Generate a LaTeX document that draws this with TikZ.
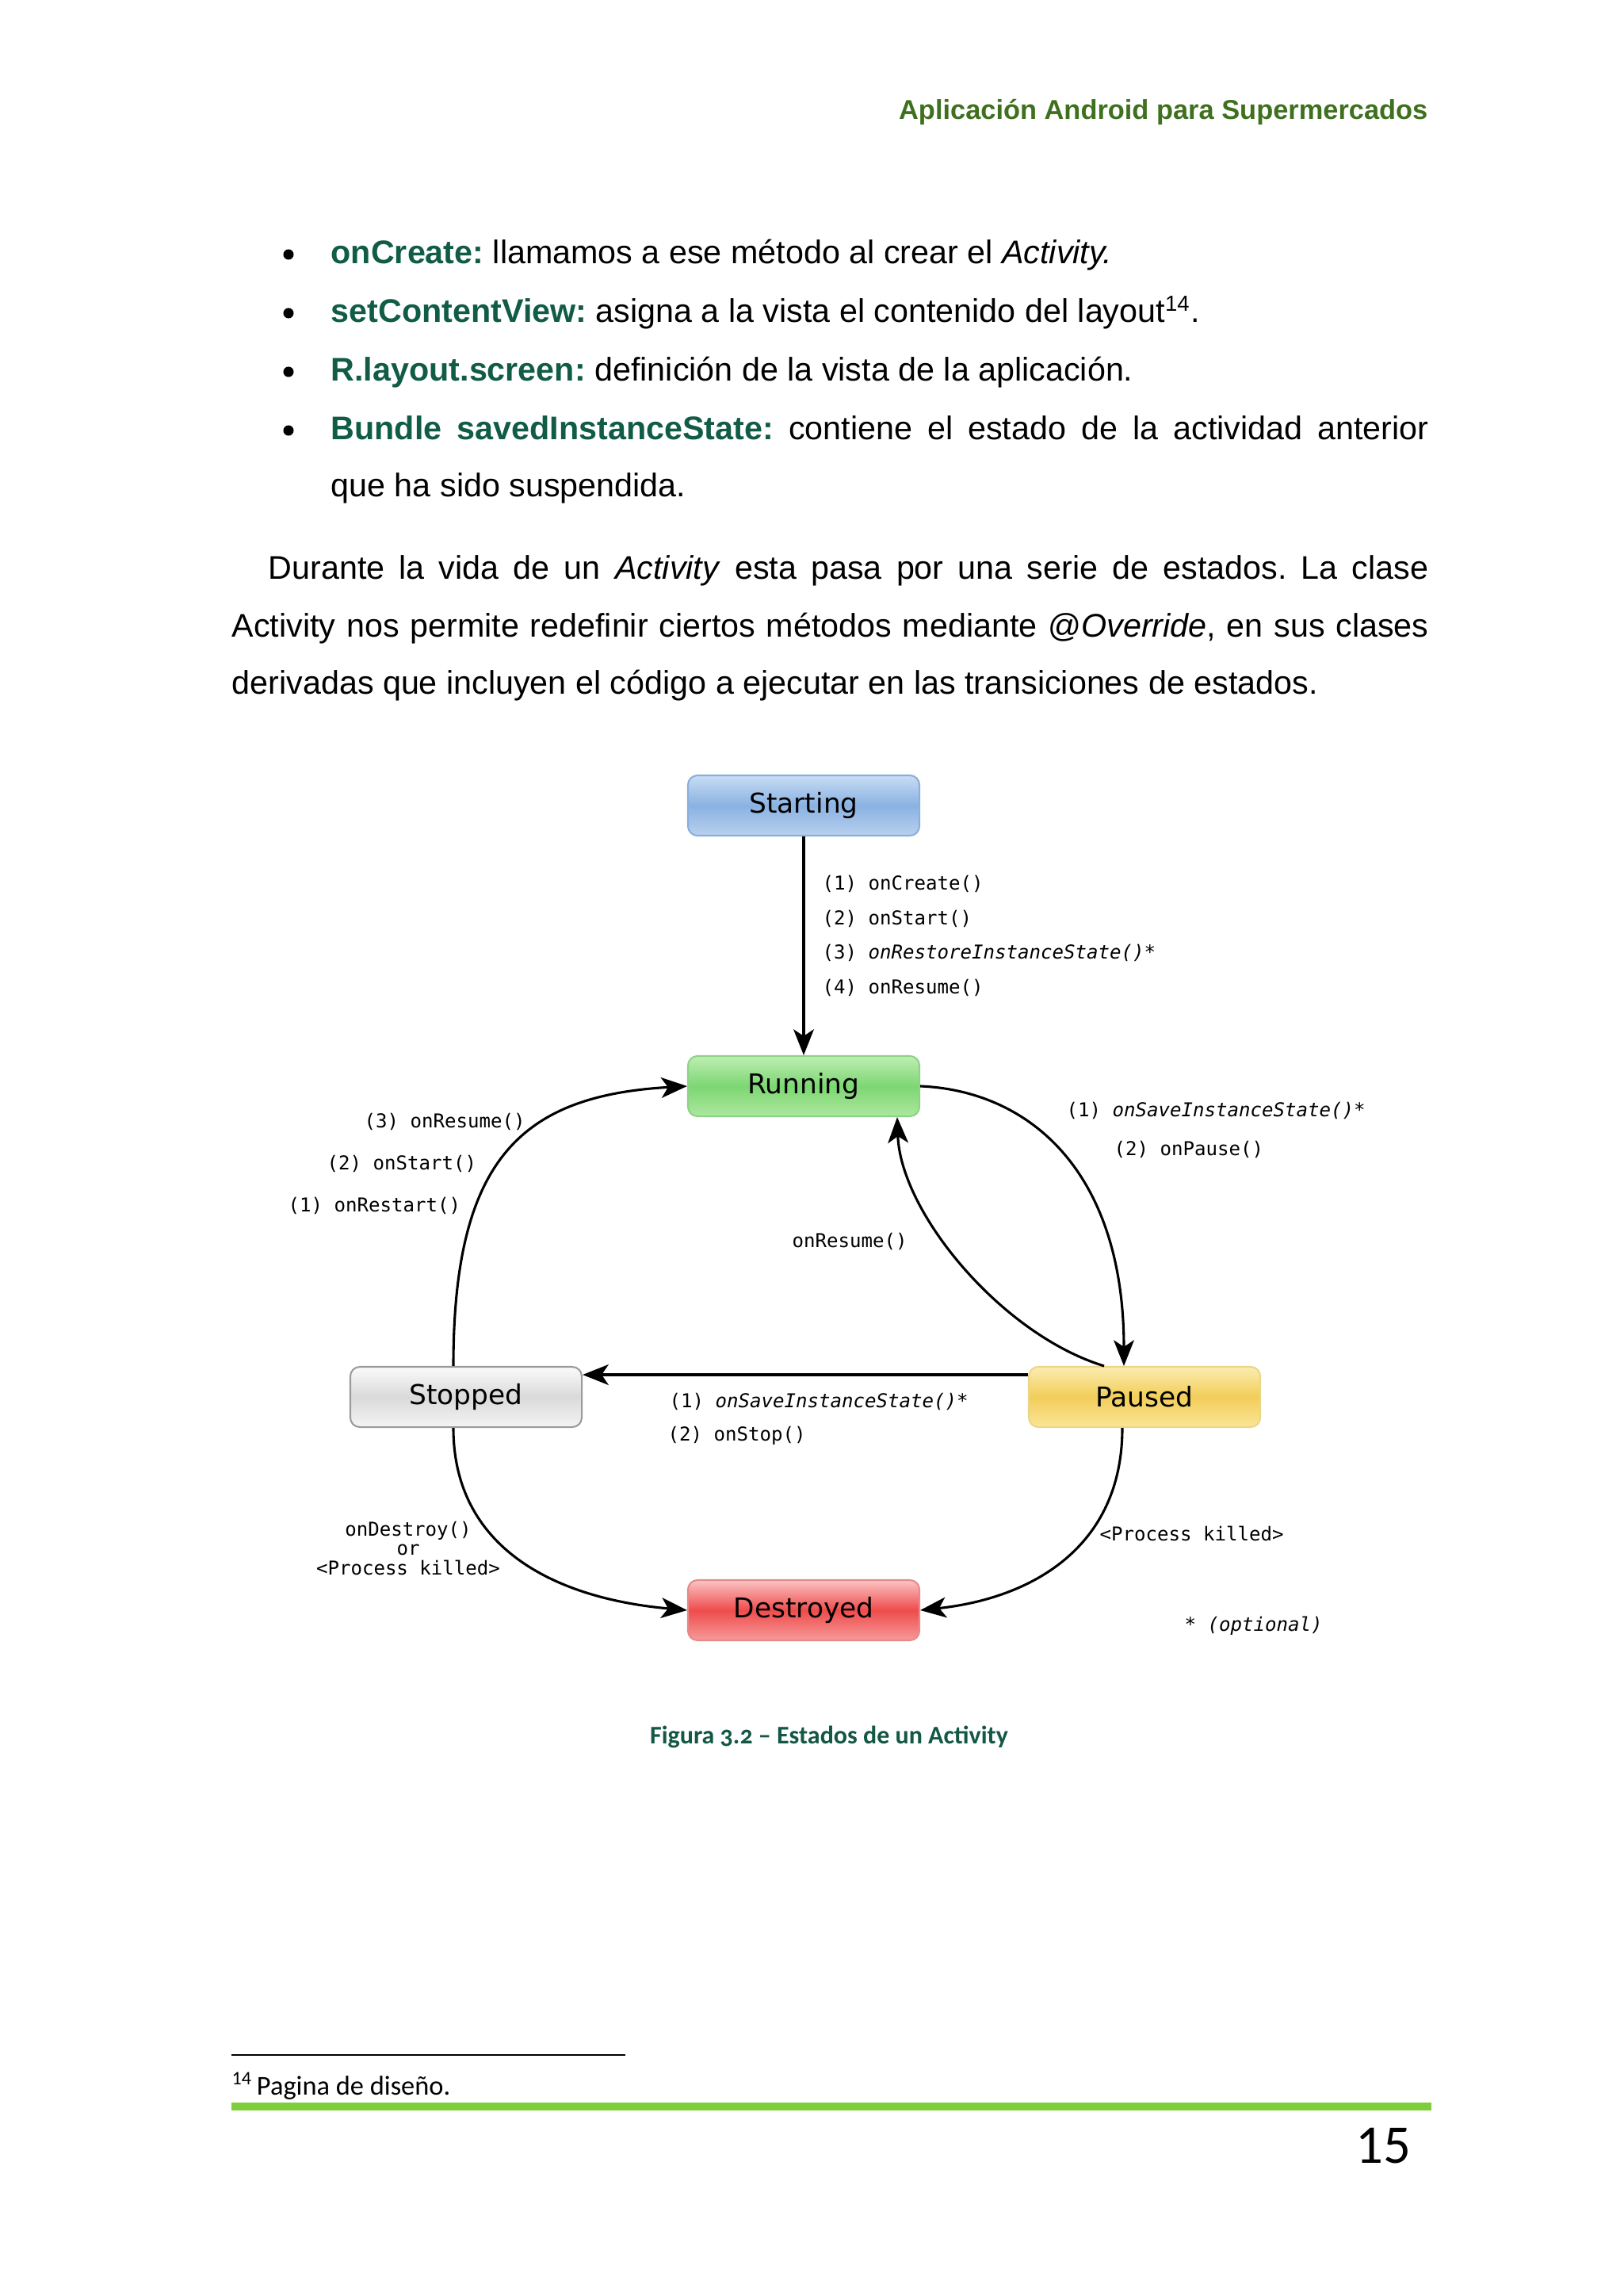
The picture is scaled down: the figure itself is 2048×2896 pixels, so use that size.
\documentclass[tikz,border=0pt]{standalone}
\usepackage{fontspec}
\setmainfont{Liberation Sans}
\newfontfamily\dejavu{DejaVu Sans}
\newfontfamily\dmono{DejaVu Sans Mono}
\newfontfamily\carlito{Carlito}
\newfontfamily\carlitoos[Numbers=OldStyle]{Carlito}
\usetikzlibrary{arrows.meta,calc}
\definecolor{hdrgreen}{RGB}{62,112,30}
\definecolor{kwteal}{RGB}{16,92,70}
\definecolor{capteal}{RGB}{18,88,68}
\definecolor{bargreen}{RGB}{126,206,60}
\frenchspacing
\begin{document}
\frenchspacing
\begin{tikzpicture}[x=0.29068pt,y=-0.29068pt,
  state/.style={draw, rounded corners=3.5pt, minimum width=84.9pt, minimum height=22.1pt,
    inner sep=0pt, line width=0.6pt, font=\dejavu\fontsize{10pt}{12pt}\selectfont},
  arr/.style={line width=0.9pt, -{Stealth[length=9.5pt,width=7.5pt,inset=2.5pt]}},
  lbl/.style={font=\dmono\fontsize{7pt}{7pt}\selectfont, inner sep=0pt, anchor=base west},
  body/.style={font=\frenchspacing\fontsize{12pt}{14pt}\selectfont, inner sep=0pt, anchor=base west},
  kw/.style={text=kwteal}]
\fill[white] (0,0) rectangle (2048,2896);
\useasboundingbox (0,0) rectangle (2048,2896);

% header
\node[anchor=base east, inner sep=0pt, font=\bfseries\fontsize{10pt}{12pt}\selectfont, text=hdrgreen] (hdr) at (1802,151) {Aplicación Android para Supermercados};

% bullets
\fill (364,321) circle[radius=1.9pt];
\fill (364,395) circle[radius=1.9pt];
\fill (364,469) circle[radius=1.9pt];
\fill (364,543) circle[radius=1.9pt];
\node[body] (b1) at (417,333) {\textcolor{kwteal}{\bfseries onCreate:} llamamos a ese método al crear el \textit{Activity.}};
\node[body] (b2) at (417,407) {\textcolor{kwteal}{\bfseries setContentView:} asigna a la vista el contenido del layout\textsuperscript{14}.};
\node[body] (b3) at (417,481) {\textcolor{kwteal}{\bfseries R.layout.screen:} definición de la vista de la aplicación.};
\node[body] (b4) at (417,555) {\makebox[402.6pt][s]{\textcolor{kwteal}{\bfseries Bundle savedInstanceState:} contiene el estado de la actividad anterior}};
\node[body] (b5) at (417,627) {que ha sido suspendida.};

% paragraph
\node[body] (p1) at (338,731) {\makebox[425.5pt][s]{Durante la vida de un \textit{Activity} esta pasa por una serie de estados. La clase}};
\node[body] (p2) at (292,803) {\makebox[438.9pt][s]{Activity nos permite redefinir ciertos métodos mediante @\textit{Override}, en sus clases}};
\node[body] (p3) at (292,875) {derivadas que incluyen el código a ejecutar en las transiciones de estados.};

% states
\node[state, draw={rgb,255:red,138;green,175;blue,220}, top color={rgb,255:red,200;green,220;blue,244}, bottom color={rgb,255:red,184;green,208;blue,238}, middle color={rgb,255:red,138;green,178;blue,226}] (start) at (1014,1016) {Starting};
\node[state, draw={rgb,255:red,142;green,211;blue,133}, top color={rgb,255:red,190;green,238;blue,180}, bottom color={rgb,255:red,172;green,232;blue,158}, middle color={rgb,255:red,125;green,214;blue,115}] (run) at (1014,1370) {Running};
\node[state, draw={rgb,255:red,154;green,154;blue,154}, top color={rgb,255:red,250;green,250;blue,250}, bottom color={rgb,255:red,244;green,244;blue,244}, middle color={rgb,255:red,218;green,218;blue,218}] (stop) at (588,1762) {Stopped};
\node[state, draw={rgb,255:red,237;green,213;blue,136}, top color={rgb,255:red,251;green,236;blue,176}, bottom color={rgb,255:red,250;green,229;blue,151}, middle color={rgb,255:red,242;green,205;blue,90}] (pause) at (1444,1762) {Paused};
\node[state, draw={rgb,255:red,229;green,138;blue,138}, top color={rgb,255:red,251;green,196;blue,196}, bottom color={rgb,255:red,247;green,154;blue,154}, middle color={rgb,255:red,239;green,76;blue,76}] (dest) at (1014,2031) {Destroyed};

% connectors
\draw[arr] (start) -- (run);
\draw[arr] ($(stop.north)+(-16,0)$) .. controls +(0,-260) and +(-210,12) .. (run.west);
\draw[arr] (run.east) .. controls +(140,6) and +(0,-243) .. ($(pause.north)+(-26,0)$);
\draw[arr] ($(pause.north)+(-51,0)$) .. controls +(-130,-40) and +(4,120) .. ($(run.south)+(118,0)$);
\draw[arr] ($(pause.west)+(0,-28)$) -- ($(stop.east)+(0,-28)$);
\draw[arr] ($(stop.south)+(-16,0)$) .. controls +(0,151) and +(-168,-15) .. (dest.west);
\draw[arr] ($(pause.south)+(-28,0)$) .. controls +(0,151) and +(140,-15) .. (dest.east);

% labels
\node[lbl] (l1) at (1037,1122) {(1) onCreate()};
\node[lbl] (l2) at (1037,1166) {(2) onStart()};
\node[lbl] (l3) at (1037,1209) {(3) {\itshape onRestoreInstanceState()}*};
\node[lbl] (l4) at (1037,1253) {(4) onResume()};

\node[lbl] (r3) at (459,1422) {(3) onResume()};
\node[lbl] (r2) at (412,1475) {(2) onStart()};
\node[lbl] (r1) at (363,1528) {(1) onRestart()};

\node[lbl] (s1) at (1345,1408) {(1) {\itshape onSaveInstanceState()}*};
\node[lbl] (s2) at (1405,1457) {(2) onPause()};

\node[lbl] (res) at (999,1573) {onResume()};

\node[lbl] (t1) at (844,1775) {(1) {\itshape onSaveInstanceState()}*};
\node[lbl] (t2) at (842,1817) {(2) onStop()};

\node[font=\dmono\fontsize{7pt}{7pt}\selectfont, inner sep=0pt, align=center] (dl) at (515,1953) {onDestroy()\\or\\<Process killed>};
\node[lbl] (pk) at (1387,1943) {<Process killed>};
\node[lbl] (opt) at (1494,2057) {* {\itshape (optional)}};

% caption
\node[anchor=base, inner sep=0pt, font=\carlitoos\bfseries\fontsize{9.3pt}{11pt}\selectfont, text=capteal] (cap) at (1046,2199) {Figura 3.2 – Estados de un Activity};

% footnote
\draw[line width=0.7pt] (292,2592) -- (789,2592);
\node[anchor=base west, inner sep=0pt, font=\carlito\fontsize{10pt}{12pt}\selectfont] (fn) at (292,2642) {\textsuperscript{14}\hspace{1.5pt}Pagina de diseño.};
\fill[bargreen] (292,2652) rectangle (1806,2662);
\node[anchor=base east, inner sep=0pt, font=\carlito\fontsize{20pt}{24pt}\selectfont] (pnum) at (1781,2728) {15};
\end{tikzpicture}
\end{document}
